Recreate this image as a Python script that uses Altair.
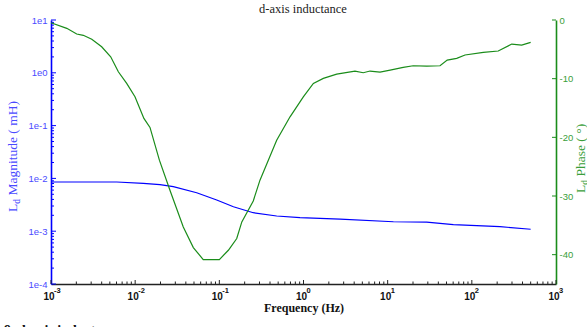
import altair as alt
import pandas as pd

# ---- data ----
mag_freq = [0.001, 0.00604, 0.0125, 0.0197, 0.0284, 0.0538, 0.0931, 0.147, 0.253,
            0.480, 0.908, 2.72, 11.7, 29.1, 60.3, 216, 500]
mag_val = [0.00855, 0.00855, 0.00807, 0.00760, 0.00697, 0.00536, 0.00390, 0.00291,
           0.00224, 0.00194, 0.00180, 0.00170, 0.00151, 0.00148, 0.00133, 0.00122, 0.00109]

phase_freq = [0.001, 0.00154, 0.00202, 0.00242, 0.00305, 0.00400, 0.00512, 0.00631,
              0.00793, 0.00995, 0.0127, 0.0150, 0.0194, 0.0259, 0.0373, 0.0491, 0.0644,
              0.100, 0.128, 0.161, 0.185, 0.253, 0.304, 0.382, 0.480, 0.692, 0.995,
              1.31, 1.72, 2.48, 4.09, 5.13, 6.17, 8.11, 10.7, 15.3, 20.1, 29.1, 41.9,
              51.0, 66.1, 83.0, 137, 206, 298, 391, 500]
phase_val = [-0.46, -1.42, -2.39, -2.61, -3.29, -4.56, -6.26, -8.82, -10.80, -13.09,
             -16.77, -18.31, -23.89, -29.01, -35.27, -38.79, -40.84, -40.84, -39.25,
             -37.25, -34.42, -30.84, -27.30, -23.89, -20.48, -16.50, -13.09, -10.80,
             -9.95, -9.22, -8.70, -8.99, -8.70, -8.87, -8.53, -8.07, -7.80, -7.85,
             -7.80, -6.83, -6.54, -5.97, -5.51, -5.29, -4.10, -4.27, -3.81]

x_decades = [0.001, 0.01, 0.1, 1, 10, 100, 1000]
x_base_labels = ["10"] * 7
x_exp_labels = ["-3", "-2", "-1", "0", "1", "2", "3"]
x_minor = [m * d for d in [0.001, 0.01, 0.1, 1, 10, 100] for m in range(2, 10)]

left_major = [10, 1, 0.1, 0.01, 0.001, 0.0001]
left_minor = [m * d for d in [0.0001, 0.001, 0.01, 0.1, 1] for m in range(2, 10)]
right_major = [0, -10, -20, -30, -40]

title_text = ["d-axis inductance"]
xtitle_text = ["Frequency (Hz)"]
caption_text = ["9. d-axis inductance"]
ltitle_parts = ["L", "d", "Magnitude ( mH)"]
rtitle_parts = ["L", "d", "Phase ( °)"]

W, H = 505, 264
BLUE = "#0000ff"
BLUE_TXT = "#4a4aff"
GREEN = "#1a8c1a"
GREEN_TXT = "#3a9e3a"
DARK = "#222222"

xscale = alt.Scale(type="log", domain=[0.001, 1000], nice=False)
lscale = alt.Scale(type="log", domain=[0.0001, 10], nice=False)
rscale = alt.Scale(type="linear", domain=[-45, 0], nice=False, zero=False)

xaxis = alt.Axis(orient="bottom", labels=False, ticks=False, tickSize=0,
                 domainColor=DARK, domainWidth=1.6, grid=False, title=None)
laxis = alt.Axis(orient="left", values=left_major, ticks=False, tickSize=0,
                 labelExpr="'1e' + round(log(datum.value)/LN10)",
                 labelColor=BLUE_TXT, labelFont="Liberation Sans",
                 labelFontSize=9.5, labelPadding=4, domainColor=BLUE,
                 domainWidth=1.6, grid=False, title=None)
raxis = alt.Axis(orient="right", values=right_major, ticks=False, tickSize=0,
                 labelExpr="toString(datum.value)",
                 labelColor=GREEN_TXT, labelFont="Liberation Sans",
                 labelFontSize=9.5, labelPadding=3, domainColor=GREEN,
                 domainWidth=1.6, grid=False, title=None)

X = alt.X("f:Q", scale=xscale, axis=xaxis)

mag_df = pd.DataFrame({"f": mag_freq, "v": mag_val})
ph_df = pd.DataFrame({"f": phase_freq, "v": phase_val})

blue_line = alt.Chart(mag_df).mark_line(color=BLUE, strokeWidth=1.2).encode(
    x=X, y=alt.Y("v:Q", scale=lscale, axis=laxis), order=alt.Order("f:Q"))
lmaj = alt.Chart(pd.DataFrame({"v": left_major})).mark_rule(color=BLUE, strokeWidth=1).encode(
    y=alt.Y("v:Q", scale=lscale, axis=laxis), x=alt.value(0), x2=alt.value(5))
lmin = alt.Chart(pd.DataFrame({"v": left_minor})).mark_rule(color=BLUE, strokeWidth=1).encode(
    y=alt.Y("v:Q", scale=lscale, axis=laxis), x=alt.value(0), x2=alt.value(3))
left_group = alt.layer(blue_line, lmaj, lmin)

green_line = alt.Chart(ph_df).mark_line(color=GREEN, strokeWidth=1.2).encode(
    x=X, y=alt.Y("v:Q", scale=rscale, axis=raxis), order=alt.Order("f:Q"))
rmaj = alt.Chart(pd.DataFrame({"v": right_major})).mark_rule(color=GREEN, strokeWidth=1).encode(
    y=alt.Y("v:Q", scale=rscale, axis=raxis), x=alt.value(W - 4), x2=alt.value(W))
right_group = alt.layer(green_line, rmaj)

xmaj = alt.Chart(pd.DataFrame({"f": x_decades})).mark_rule(color=DARK, strokeWidth=1).encode(
    x=X, y=alt.value(H), y2=alt.value(H - 4))
xmin = alt.Chart(pd.DataFrame({"f": x_minor})).mark_rule(color=DARK, strokeWidth=1).encode(
    x=X, y=alt.value(H), y2=alt.value(H - 2.5))

xlab_df = pd.DataFrame({"f": x_decades, "b": x_base_labels, "e": x_exp_labels})
xlab = alt.Chart(xlab_df).mark_text(font="Liberation Sans", fontWeight="bold", fontSize=10,
                                   dx=-2, baseline="alphabetic", color="#111111").encode(
    x=X, y=alt.value(H + 16), text="b:N")
xexp = alt.Chart(xlab_df).mark_text(font="Liberation Sans", fontWeight="bold", fontSize=7.5,
                                   dx=3, align="left", baseline="alphabetic", color="#111111").encode(
    x=X, y=alt.value(H + 9), text="e:N")


def txt(values, x, y, **kw):
    return alt.Chart(pd.DataFrame({"t": values})).mark_text(**kw).encode(
        text="t:N", x=alt.value(x), y=alt.value(y))


title = txt(title_text, 252, -7, font="Liberation Serif", fontSize=12.5, color=DARK,
            baseline="alphabetic", align="center")
xtitle = txt(xtitle_text, 253, 292, font="Liberation Serif", fontSize=12, fontWeight="bold",
             color="#111111", baseline="alphabetic", align="center")
caption = txt(caption_text, -47, 315, font="Liberation Serif", fontSize=14, fontWeight="bold",
              color="#111111", baseline="alphabetic", align="left")

FS = 13.5
lt1 = txt([ltitle_parts[0]], -34, 192, font="Liberation Serif", fontSize=FS, color=BLUE_TXT,
          angle=270, align="left", baseline="alphabetic")
lt2 = txt([ltitle_parts[1]], -31, 183.8, font="Liberation Serif", fontSize=9.5, color=BLUE_TXT,
          angle=270, align="left", baseline="alphabetic")
lt3 = txt([ltitle_parts[2]], -34, 175.5, font="Liberation Serif", fontSize=FS, color=BLUE_TXT,
          angle=270, align="left", baseline="alphabetic")
rt1 = txt([rtitle_parts[0]], 534, 173, font="Liberation Serif", fontSize=FS, color=GREEN_TXT,
          angle=270, align="left", baseline="alphabetic")
rt2 = txt([rtitle_parts[1]], 537, 164.8, font="Liberation Serif", fontSize=9.5, color=GREEN_TXT,
          angle=270, align="left", baseline="alphabetic")
rt3 = txt([rtitle_parts[2]], 534, 156.5, font="Liberation Serif", fontSize=FS, color=GREEN_TXT,
          angle=270, align="left", baseline="alphabetic")

chart = alt.layer(
    left_group, right_group, xmaj, xmin, xlab, xexp,
    title, xtitle, caption, lt1, lt2, lt3, rt1, rt2, rt3,
).resolve_scale(y="independent").properties(
    width=W, height=H,
    autosize=alt.AutoSizeParams(type="none"),
    padding={"left": 51, "top": 20, "right": 31, "bottom": 43},
    background="white",
).configure_view(stroke=None)

chart.save("out.html", embed_options={"renderer": "svg", "actions": False})
